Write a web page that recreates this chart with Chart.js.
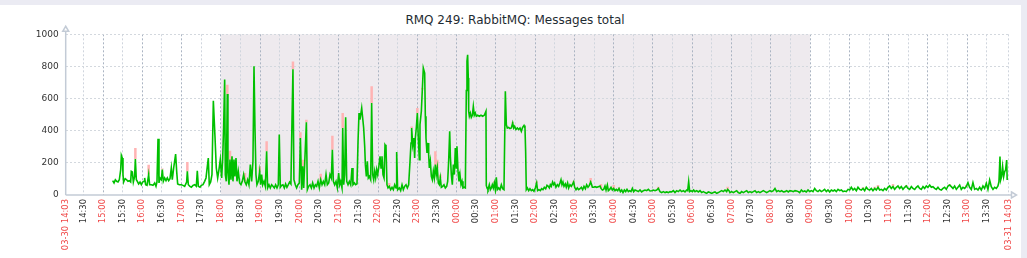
<!DOCTYPE html>
<html><head><meta charset="utf-8">
<script src="https://cdn.jsdelivr.net/npm/chart.js@4.4.1/dist/chart.umd.min.js"></script>
<style>
html,body{margin:0;padding:0;}
body{width:1027px;height:258px;background:#ebebf3;position:relative;overflow:hidden;}
#panel{position:absolute;left:0;top:5px;width:1021px;height:253px;background:#fff;}
#title{position:absolute;left:0;top:13px;width:1030px;text-align:center;font:12px/14px 'DejaVu Sans',sans-serif;color:#1f2c33;white-space:nowrap;}
#c{position:absolute;left:0;top:0;}
</style></head><body>
<div id="panel"></div>
<div id="title"></div>
<canvas id="c" width="1027" height="258"></canvas>
<script>
const titleText = "RMQ 249: RabbitMQ: Messages total";
// time = minutes since 03-30 00:00 ; value = messages
// 15:15 - 17:35
const tA = [914.7,916.8,918.8,920.8,922.9,924.9,927.0,928.0,929.5,930.5,931.5,933.0,934.0,936.0,938.1,940.2,942.2,943.2,944.8,946.3,948.3,949.4,950.9,952.4,954.4,956.5,958.5,960.5,962.6,963.6,965.1,967.2,969.7,971.2,973.8,976.3,978.9,980.9,982.4,984.0,985.5,987.0,989.0,990.6,992.1,994.1,996.2,998.2,1000.2,1002.3,1004.3,1005.8,1007.9,1010.9,1012.5,1014.0,1016.5,1019.6,1022.1,1024.7,1027.7,1028.8,1030.3,1032.8,1034.9,1037.4,1040.0,1042.5,1044.0,1045.6,1048.1,1050.1,1052.7,1055.2,1057.3];
const vA = [89,75,95,85,81,95,158,247,230,127,81,95,102,95,85,89,81,147,143,81,116,224,95,85,69,81,64,81,85,106,64,60,127,64,64,60,75,54,81,350,75,106,95,158,85,106,89,106,89,102,168,95,168,255,147,69,64,64,60,54,81,147,64,54,48,60,64,54,151,54,48,60,64,85,106];
// 17:40 - 20:00
const tB = [1060.8,1062.3,1064.4,1066.4,1068.5,1071.0,1073.0,1075.1,1077.1,1079.1,1081.2,1082.7,1084.2,1085.8,1086.8,1088.3,1089.8,1090.8,1092.4,1093.9,1095.4,1097.0,1098.5,1100.0,1101.5,1103.1,1104.6,1106.6,1108.7,1110.7,1112.7,1114.8,1116.8,1118.8,1120.9,1122.9,1125.0,1127.0,1129.0,1130.6,1132.1,1133.6,1135.1,1137.2,1139.2,1140.7,1142.3,1143.8,1145.8,1147.9,1149.9,1151.4,1153.5,1155.5,1157.5,1159.6,1161.6,1163.6,1165.7,1167.7,1169.2,1170.8,1172.8,1174.8,1176.9,1178.9,1180.9,1183.0,1185.0,1187.0,1188.6,1190.1,1191.6,1193.7,1195.7,1197.7,1199.8,1201.5];
const vB = [230,64,81,127,587,365,168,106,158,220,106,220,417,718,127,85,629,147,64,220,95,241,85,220,116,230,85,147,75,64,85,127,81,64,95,64,189,85,210,801,417,127,64,85,147,64,127,64,85,54,272,44,64,44,64,54,44,64,44,64,376,48,60,64,44,69,48,64,81,69,458,782,95,64,44,64,75,355];
// 20:03 - 22:27
const tC = [1203.4,1205.0,1206.5,1210.6,1212.1,1214.1,1216.2,1218.2,1220.2,1222.3,1224.3,1226.3,1228.4,1230.4,1232.5,1234.5,1236.5,1238.6,1240.6,1242.6,1244.7,1246.7,1248.7,1250.3,1251.8,1253.8,1255.9,1257.9,1259.9,1261.5,1263.0,1265.0,1266.1,1267.6,1269.1,1270.6,1272.2,1274.2,1276.2,1278.3,1280.3,1281.8,1283.9,1285.9,1287.9,1289.5,1291.0,1292.5,1295.1,1296.6,1298.1,1299.7,1300.7,1302.2,1303.7,1305.2,1306.8,1308.8,1310.3,1311.9,1313.4,1314.9,1316.4,1318.0,1319.5,1321.0,1323.1,1324.6,1326.1,1327.6,1329.2,1330.7,1332.2,1333.7,1335.3,1337.3,1339.3,1341.4,1343.4,1345.5,1347.5];
const vC = [33,178,44,452,33,54,64,44,75,44,64,54,85,44,95,64,85,64,127,64,75,127,106,282,85,64,85,44,137,64,85,44,417,64,127,483,85,64,85,64,168,64,75,64,69,334,510,469,541,479,417,300,189,116,210,106,116,95,573,127,95,147,106,158,127,168,241,168,241,127,106,313,303,64,44,54,33,48,33,64,44];
// 22:28 - 00:59
const tD = [1348.5,1350.0,1352.6,1354.6,1356.7,1358.7,1360.7,1362.8,1364.8,1366.8,1368.9,1370.4,1371.4,1373.0,1374.5,1376.0,1377.0,1378.5,1380.1,1381.6,1383.1,1384.1,1386.2,1387.7,1389.2,1391.3,1392.3,1393.3,1394.8,1396.4,1397.4,1398.4,1399.9,1401.5,1403.0,1404.5,1406.0,1407.6,1409.1,1410.6,1412.1,1413.7,1415.2,1416.7,1418.8,1420.8,1422.8,1424.9,1426.4,1427.9,1429.5,1430.5,1432.0,1433.5,1435.1,1436.6,1438.1,1439.6,1440.6,1442.2,1443.7,1445.2,1446.8,1448.3,1449.8,1451.8,1453.4,1454.9,1455.9,1456.9,1457.9,1458.5,1459.5,1461.0,1462.5,1464.1,1465.6,1467.1,1468.6,1470.2,1472.2,1474.8,1477.3,1479.8,1482.4,1484.9,1485.4,1486.5,1488.0,1490.0,1491.6,1493.1,1494.6,1496.1,1497.7,1499.2];
const vD = [268,33,44,27,64,33,54,64,44,64,210,324,417,313,355,230,355,417,510,355,220,438,521,656,790,759,490,355,262,324,251,168,210,116,95,147,106,189,127,168,75,64,106,48,54,64,44,54,85,210,396,241,127,64,189,127,293,168,303,147,85,127,64,85,44,48,44,650,832,873,728,521,490,510,483,496,552,496,510,490,496,490,496,490,496,521,60,44,33,64,33,44,64,44,75,33];
// 01:00 - 03:26
const tE = [1500.7,1502.2,1504.3,1506.3,1508.4,1510.4,1512.4,1514.5,1516.0,1517.5,1519.5,1521.6,1523.6,1525.7,1527.2,1528.7,1530.7,1532.8,1534.8,1536.9,1538.9,1540.9,1543.0,1544.5,1545.5,1546.5,1548.1,1550.1,1552.1,1554.2,1556.2,1558.2,1560.3,1562.3,1563.8,1565.9,1567.9,1569.9,1572.0,1574.0,1576.1,1578.1,1580.1,1581.7,1583.2,1584.7,1586.7,1588.3,1589.8,1591.8,1593.9,1595.9,1597.9,1599.5,1601.0,1602.5,1604.1,1606.1,1607.6,1609.6,1611.2,1613.2,1615.3,1617.3,1618.8,1620.4,1622.4,1624.4,1626.5,1628.5,1630.6,1632.6,1634.6,1636.7,1638.7,1640.7,1642.8,1644.8,1646.3];
const vE = [110,33,44,33,64,39,33,645,438,417,421,413,417,448,417,427,407,417,407,417,396,421,433,417,272,33,44,27,39,27,33,23,44,75,27,33,27,39,33,48,39,60,54,44,64,54,81,64,75,48,64,54,75,95,64,81,54,69,48,75,44,64,54,69,81,48,33,44,33,39,48,33,54,39,64,48,60,81,64];
// 03:27 - 08:42
const tF = [1647.4,1649.4,1651.5,1654.0,1656.6,1659.1,1660.6,1662.7,1664.7,1666.7,
1668.3,1670.3,1671.8,1673.9,1675.9,1677.9,1680.0,1682.0,1684.0,1686.1,
1688.1,1690.2,1692.2,1694.2,1696.3,1698.3,1700.3,1702.4,1704.4,1706.4,
1708.5,1710.5,1712.6,1715.1,1717.6,1720.2,1722.7,1725.3,1727.8,1730.4,
1732.9,1735.5,1738.0,1740.5,1743.1,1745.6,1748.2,1750.7,1753.3,1755.8,
1758.4,1760.9,1763.5,1766.0,1768.5,1771.1,1773.6,1776.2,1778.7,1781.3,
1783.8,1786.4,1788.9,1791.4,1793.0,1794.5,1796.0,1798.1,1800.1,1802.1,
1804.2,1806.7,1809.3,1811.8,1814.4,1816.9,1819.4,1822.0,1824.5,1827.1,
1829.6,1832.2,1834.7,1837.3,1839.8,1842.3,1844.9,1847.4,1850.0,1852.5,
1854.0,1856.1,1857.6,1860.2,1862.7,1865.3,1867.8,1870.3,1872.9,1875.4,
1878.0,1880.5,1883.1,1885.6,1888.2,1890.7,1893.2,1895.8,1898.3,1900.9,
1903.4,1906.0,1908.5,1911.1,1913.6,1916.2,1918.7,1921.2,1923.8,1926.3,
1928.9,1931.4,1934.0,1936.5,1939.1,1941.6,1944.1,1946.7,1949.2,1951.8,
1954.3,1956.9,1959.4,1962.0];
const vF = [48,48,52,48,52,56,41,31,35,56,
31,62,27,35,48,31,41,27,35,27,
41,21,31,15,31,21,35,21,27,21,
41,21,31,27,21,31,19,27,31,27,
35,25,27,31,27,31,41,21,15,21,
15,19,15,21,19,27,15,27,21,31,
21,27,19,31,27,83,21,27,21,31,
21,27,19,27,15,21,15,10,19,15,
10,15,19,10,15,21,27,21,31,21,
35,27,15,21,15,21,27,15,10,21,
15,21,27,15,21,15,21,27,15,21,
15,21,27,21,15,21,27,21,27,41,
21,27,21,27,19,21,27,19,27,25,
21,27,25,21];
// 08:44 - 14:01
const tG = [1964.0,1966.6,1969.1,1971.7,1974.2,1976.8,1979.3,1981.9,1984.4,1987.0,
1989.5,1992.0,1994.6,1997.1,1999.7,2002.2,2004.8,2007.3,2009.9,2012.4,
2015.0,2017.5,2020.0,2022.6,2025.1,2027.7,2030.2,2032.8,2035.3,2037.9,
2040.4,2042.9,2045.5,2048.0,2050.6,2053.1,2055.7,2058.2,2060.8,2063.3,
2065.8,2068.4,2070.9,2073.5,2076.0,2078.6,2081.1,2083.7,2086.2,2088.8,
2091.3,2093.8,2096.4,2098.9,2101.5,2104.0,2106.6,2109.1,2111.7,2114.2,
2116.7,2119.3,2121.8,2124.4,2126.9,2129.5,2132.0,2134.6,2137.1,2139.7,
2142.2,2144.7,2147.3,2149.8,2152.4,2154.9,2157.5,2160.0,2162.6,2165.1,
2167.6,2170.2,2172.7,2175.3,2177.8,2180.4,2182.9,2185.5,2188.0,2190.6,
2193.1,2195.6,2198.2,2200.7,2203.3,2205.8,2208.4,2210.9,2213.5,2216.0,
2218.5,2221.1,2223.6,2226.2,2228.7,2231.3,2233.8,2236.4,2238.9,2241.5,
2244.0,2246.5,2249.1,2251.6,2254.2,2256.7,2259.3,2261.8,2264.4,2266.9,
2268.4,2270.0,2271.0,2272.5,2274.0,2275.6,2277.1,2278.6,2280.2,2281.0];
const vG = [15,31,21,25,19,31,21,27,21,41,
27,21,31,21,27,35,21,31,19,31,
25,31,21,35,27,31,21,25,21,35,
31,48,31,41,27,48,35,31,41,27,
48,35,31,41,27,41,31,48,31,35,
27,41,31,48,56,41,52,35,48,56,
41,52,35,48,56,41,35,52,41,35,
48,56,41,35,52,41,56,48,62,48,
52,41,35,48,35,31,41,48,35,56,
62,52,41,56,35,48,62,35,48,41,
52,77,48,35,77,35,41,31,48,31,
56,41,73,35,93,52,35,48,41,56,
83,239,93,114,176,114,145,156,218,93];
// max (pink) spikes above the average line
const spikeTimes = [949.4,969.7,990.6,1028.8,1089.8,1093.9,1116.8,1139.2,1149.9,1190.1,1201.5,1205.0,1210.6,1232.5,1250.3,1266.1,1310.3,1337.3,1371.4,1380.1,1387.7,1407.6,1410.6,1415.2,1497.7,1525.7,1562.3,1618.8,1644.8,1660.6,1680.0,1688.1,1748.2,1854.0,2060.8,2078.6,2083.7,2106.6,2126.9,2193.1,2218.5,2249.1];
const spikeLow = [224,127,158,147,629,220,81,147,272,782,355,178,452,95,282,417,573,54,417,510,656,189,168,106,75,448,75,81,81,41,41,41,41,35,41,41,48,52,56,62,52,73];
const spikeHigh = [292,188,165,205,686,276,137,178,334,830,390,220,469,133,369,510,676,75,427,541,666,272,220,127,85,454,85,85,106,68,62,48,52,52,48,52,62,68,62,68,62,77];

const xMin = 843, xMax = 2283;           // 03-30 14:03 .. 03-31 14:03
const nightStart = 1080, nightEnd = 1980; // 18:00 .. 09:00
const tickTimes = [843,870,900,930,960,990,1020,1050,1080,1110,1140,1170,1200,1230,1260,1290,1320,1350,1380,1410,1440,1470,1500,1530,1560,1590,1620,1650,1680,1710,1740,1770,1800,1830,1860,1890,1920,1950,1980,2010,2040,2070,2100,2130,2160,2190,2220,2250,2283];
const tickLabels = ["03-30 14:03","14:30","15:00","15:30","16:00","16:30","17:00","17:30","18:00","18:30","19:00","19:30","20:00","20:30","21:00","21:30","22:00","22:30","23:00","23:30","00:00","00:30","01:00","01:30","02:00","02:30","03:00","03:30","04:00","04:30","05:00","05:30","06:00","06:30","07:00","07:30","08:00","08:30","09:00","09:30","10:00","10:30","11:00","11:30","12:00","12:30","13:00","13:30","03-31 14:03"];
const yTicks = [0,200,400,600,800,1000];

document.getElementById('title').textContent = titleText;

const allT = [].concat(tA,tB,tC,tD,tE,tF,tG);
const allV = [].concat(vA,vB,vC,vD,vE,vF,vG);
const lineData = allT.map((t,i)=>({x:t,y:allV[i]}));
const spikeData = [];
spikeTimes.forEach((t,i)=>{ spikeData.push({x:t,y:spikeLow[i]},{x:t,y:spikeHigh[i]},{x:t,y:null}); });

const RED = '#f04848', DARK = '#333333';
const isRed = i => { const l = tickLabels[i] || ''; return l.endsWith(':00') || l.indexOf('-') >= 0; };

const bandPlugin = {
  id:'band',
  beforeDraw(chart){
    const {ctx, chartArea:a, scales:{x}} = chart;
    const x1 = x.getPixelForValue(nightStart), x2 = x.getPixelForValue(nightEnd);
    ctx.save(); ctx.fillStyle = '#eeeaee';
    ctx.fillRect(x1, a.top, x2 - x1, a.bottom - a.top);
    ctx.restore();
  }
};
const axisPlugin = {
  id:'axes',
  afterDraw(chart){
    const {ctx, chartArea:a} = chart;
    ctx.save();
    ctx.strokeStyle = '#c3cbd6'; ctx.lineWidth = 1.5; ctx.fillStyle = '#ffffff';
    ctx.beginPath(); ctx.moveTo(a.left, a.bottom); ctx.lineTo(a.left, a.top - 4); ctx.stroke();
    ctx.beginPath(); ctx.moveTo(a.left - 3, a.top - 3); ctx.lineTo(a.left, a.top - 8); ctx.lineTo(a.left + 3, a.top - 3); ctx.closePath(); ctx.fill(); ctx.stroke();
    ctx.beginPath(); ctx.moveTo(a.left, a.bottom); ctx.lineTo(a.right + 3, a.bottom); ctx.stroke();
    ctx.beginPath(); ctx.moveTo(a.right + 3, a.bottom - 3); ctx.lineTo(a.right + 8, a.bottom); ctx.lineTo(a.right + 3, a.bottom + 3); ctx.closePath(); ctx.fill(); ctx.stroke();
    ctx.restore();
  }
};

new Chart(document.getElementById('c'), {
  type:'line',
  data:{datasets:[
    {data:lineData, borderColor:'#00c000', borderWidth:1.6, pointRadius:0, tension:0, fill:false},
    {data:spikeData, borderColor:'#ffb3b3', borderWidth:2.5, pointRadius:0, tension:0, spanGaps:false, fill:false, borderCapStyle:'butt'}
  ]},
  options:{
    responsive:false, animation:false, events:[],
    layout:{padding:{left:0, right:18.5, top:34.3, bottom:0}},
    plugins:{ legend:{display:false}, tooltip:{enabled:false}, title:{display:false} },
    scales:{
      x:{
        type:'linear', min:xMin, max:xMax,
        afterBuildTicks: s => { s.ticks = tickTimes.map(v => ({value:v})); },
        afterFit: s => { s.height = 63; },
        ticks:{autoSkip:false, minRotation:90, maxRotation:90, padding:4,
          font:{family:'DejaVu Sans', size:8.4},
          color: c => isRed(c.index) ? RED : DARK,
          callback: (v,i) => tickLabels[i]},
        grid:{drawTicks:false, lineWidth:1,
          color: c => c.index === 0 ? 'rgba(0,0,0,0)' : ((tickLabels[c.index]||'').endsWith(':00') ? '#aab4c2' : '#cfd5dd')},
        border:{display:false, dash:[2,2]}
      },
      y:{
        min:0, max:1000,
        afterBuildTicks: s => { s.ticks = yTicks.map(v => ({value:v})); },
        afterFit: s => { s.width = 65.7; },
        ticks:{padding:7, font:{family:'DejaVu Sans', size:9}, color:DARK, callback: v => String(v)},
        grid:{drawTicks:false, lineWidth:1, color: c => c.tick && c.tick.value === 0 ? 'rgba(0,0,0,0)' : '#d3d8de'},
        border:{display:false, dash:[2,2]}
      }
    }
  },
  plugins:[bandPlugin, axisPlugin]
});
</script>
</body></html>
